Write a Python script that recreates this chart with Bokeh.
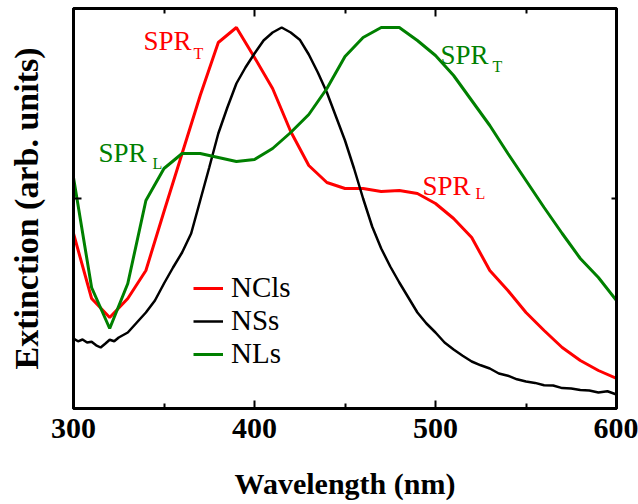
from bokeh.plotting import figure
from bokeh.models import (LinearAxis, FixedTicker, Label, Legend, LegendItem,
                          Range1d)
from bokeh.embed import file_html
from bokeh.resources import INLINE

# ---------------- data ----------------
wl_ncl = [300, 310, 320, 330, 340, 350, 360, 370, 380, 390, 400, 410, 420, 430,
          440, 450, 460, 470, 480, 490, 500, 510, 520, 530, 540, 550, 560, 570,
          580, 590, 600]
ext_ncl = [0.4375, 0.275, 0.2275, 0.275, 0.345, 0.4925, 0.6375, 0.7825, 0.915,
           0.9525, 0.8775, 0.80, 0.6925, 0.6075, 0.565, 0.55, 0.55, 0.5425,
           0.545, 0.5375, 0.5125, 0.475, 0.4275, 0.345, 0.295, 0.24, 0.195,
           0.1525, 0.12, 0.095, 0.075]

wl_nl = wl_ncl
ext_nl = [0.5775, 0.3025, 0.20, 0.3125, 0.52, 0.60, 0.6375, 0.6375, 0.6275,
          0.6175, 0.6225, 0.65, 0.69, 0.735, 0.80, 0.88, 0.9275, 0.9525,
          0.9525, 0.92, 0.8825, 0.8325, 0.77, 0.7075, 0.6375, 0.57, 0.5025,
          0.4375, 0.375, 0.3275, 0.27]

wl_ns = [300, 302.5, 305, 307.5, 310, 312.5, 315, 317.5, 320, 322.5, 325, 330,
         335, 340, 345, 350, 355, 360, 365, 370, 375, 380, 385, 390, 395, 400,
         405, 410, 415, 420, 425, 430, 435, 440, 445, 450, 455, 460, 465, 470,
         475, 480, 485, 490, 495, 500, 505, 510, 515, 520, 525, 530, 535, 540,
         545, 550, 555, 560, 565, 570, 575, 580, 585, 590, 595, 600]
ext_ns = [0.175, 0.168, 0.1725, 0.165, 0.167, 0.158, 0.1525, 0.162, 0.172,
          0.168, 0.1775, 0.19, 0.215, 0.24, 0.27, 0.3125, 0.3525, 0.39, 0.4375,
          0.52, 0.6025, 0.6875, 0.7525, 0.8125, 0.8525, 0.8875, 0.92, 0.94,
          0.9525, 0.94, 0.922, 0.885, 0.84, 0.79, 0.73, 0.67, 0.60, 0.525,
          0.455, 0.40, 0.355, 0.315, 0.2775, 0.24, 0.2125, 0.19, 0.165, 0.1475,
          0.132, 0.1175, 0.108, 0.10, 0.0875, 0.082, 0.073, 0.0675, 0.064,
          0.058, 0.0575, 0.051, 0.05, 0.046, 0.045, 0.04, 0.043, 0.035]

x_major = [300, 400, 500, 600]
x_minor = [350, 450, 550]
y_ticks = [0.525]

# annotation texts
ann_main = ["SPR", "SPR", "SPR", "SPR"]
ann_sub = ["T", "L", "T", "L"]
ann_color = ["#ff0000", "#008000", "#008000", "#ff0000"]
ann_x = [338.7, 313.8, 502.8, 492.8]
ann_y = [0.92, 0.64, 0.885, 0.5575]
ann_sx = [366.3, 343.6, 531.5, 522.1]
ann_sy = [0.8875, 0.6125, 0.855, 0.5375]

RED = "#ff0000"
GREEN = "#008000"
FONT = "Liberation Serif"

p = figure(width=638, height=504, output_backend="svg", toolbar_location=None,
           x_range=Range1d(300, 600), y_range=Range1d(0, 1),
           min_border_left=73, min_border_right=22, min_border_top=8,
           min_border_bottom=96)
p.background_fill_color = "white"
p.border_fill_color = "white"
p.grid.visible = False
p.outline_line_color = "black"
p.outline_line_width = 3

r_ncl = p.line(wl_ncl, ext_ncl, line_color=RED, line_width=3)
r_ns = p.line(wl_ns, ext_ns, line_color="black", line_width=2.5)
r_nl = p.line(wl_nl, ext_nl, line_color=GREEN, line_width=3)

def style_axis(ax, labels=True):
    ax.axis_line_width = 3
    ax.axis_line_color = "black"
    ax.major_tick_in = 8
    ax.major_tick_out = 0
    ax.minor_tick_in = 5
    ax.minor_tick_out = 0
    ax.major_tick_line_width = 2
    ax.minor_tick_line_width = 2
    ax.major_tick_line_color = "black"
    ax.minor_tick_line_color = "black"
    ax.major_label_text_color = "black"
    ax.axis_label_text_color = "black"
    if not labels:
        ax.major_label_text_font_size = "1px"
        ax.major_label_text_alpha = 0
        ax.major_label_standoff = 0

xax = p.xaxis[0]
xax.ticker = FixedTicker(ticks=x_major, minor_ticks=x_minor)
style_axis(xax)
xax.major_label_text_font = FONT
xax.major_label_text_font_style = "bold"
xax.major_label_text_font_size = "30px"
xax.major_label_standoff = 10
xax.axis_label = "Wavelength (nm)"
xax.axis_label_text_font = FONT
xax.axis_label_text_font_style = "bold"
xax.axis_label_text_font_size = "30px"
xax.axis_label_standoff = 26

yax = p.yaxis[0]
yax.ticker = FixedTicker(ticks=y_ticks, minor_ticks=[])
style_axis(yax, labels=False)
yax.axis_label = "Extinction (arb. units)"
yax.axis_label_text_font = FONT
yax.axis_label_text_font_style = "bold"
yax.axis_label_text_font_size = "34px"
yax.axis_label_standoff = 29

top = LinearAxis(ticker=FixedTicker(ticks=x_major, minor_ticks=x_minor))
style_axis(top, labels=False)
p.add_layout(top, "above")

right = LinearAxis(ticker=FixedTicker(ticks=y_ticks, minor_ticks=[]))
style_axis(right, labels=False)
right.major_tick_in = 5
p.add_layout(right, "right")

for m, s, c, x, y, sx, sy in zip(ann_main, ann_sub, ann_color, ann_x, ann_y,
                                 ann_sx, ann_sy):
    p.add_layout(Label(x=x, y=y, text=m, text_color=c, text_font=FONT,
                       text_font_size="27px", text_baseline="alphabetic",
                       text_align="left"))
    p.add_layout(Label(x=sx, y=sy, text=s, text_color=c, text_font=FONT,
                       text_font_size="16px", text_baseline="alphabetic",
                       text_align="left"))

legend = Legend(items=[LegendItem(label="NCls", renderers=[r_ncl]),
                       LegendItem(label="NSs", renderers=[r_ns]),
                       LegendItem(label="NLs", renderers=[r_nl])],
                location=(120, 38))
legend.border_line_color = None
legend.background_fill_alpha = 0
legend.label_text_font = FONT
legend.label_text_font_size = "29px"
legend.label_text_color = "black"
legend.glyph_width = 30
legend.glyph_height = 20
legend.label_standoff = 8
legend.spacing = -3
legend.padding = 0
legend.margin = 0
p.add_layout(legend, "center")

open("out.html", "w").write(file_html(p, INLINE))
